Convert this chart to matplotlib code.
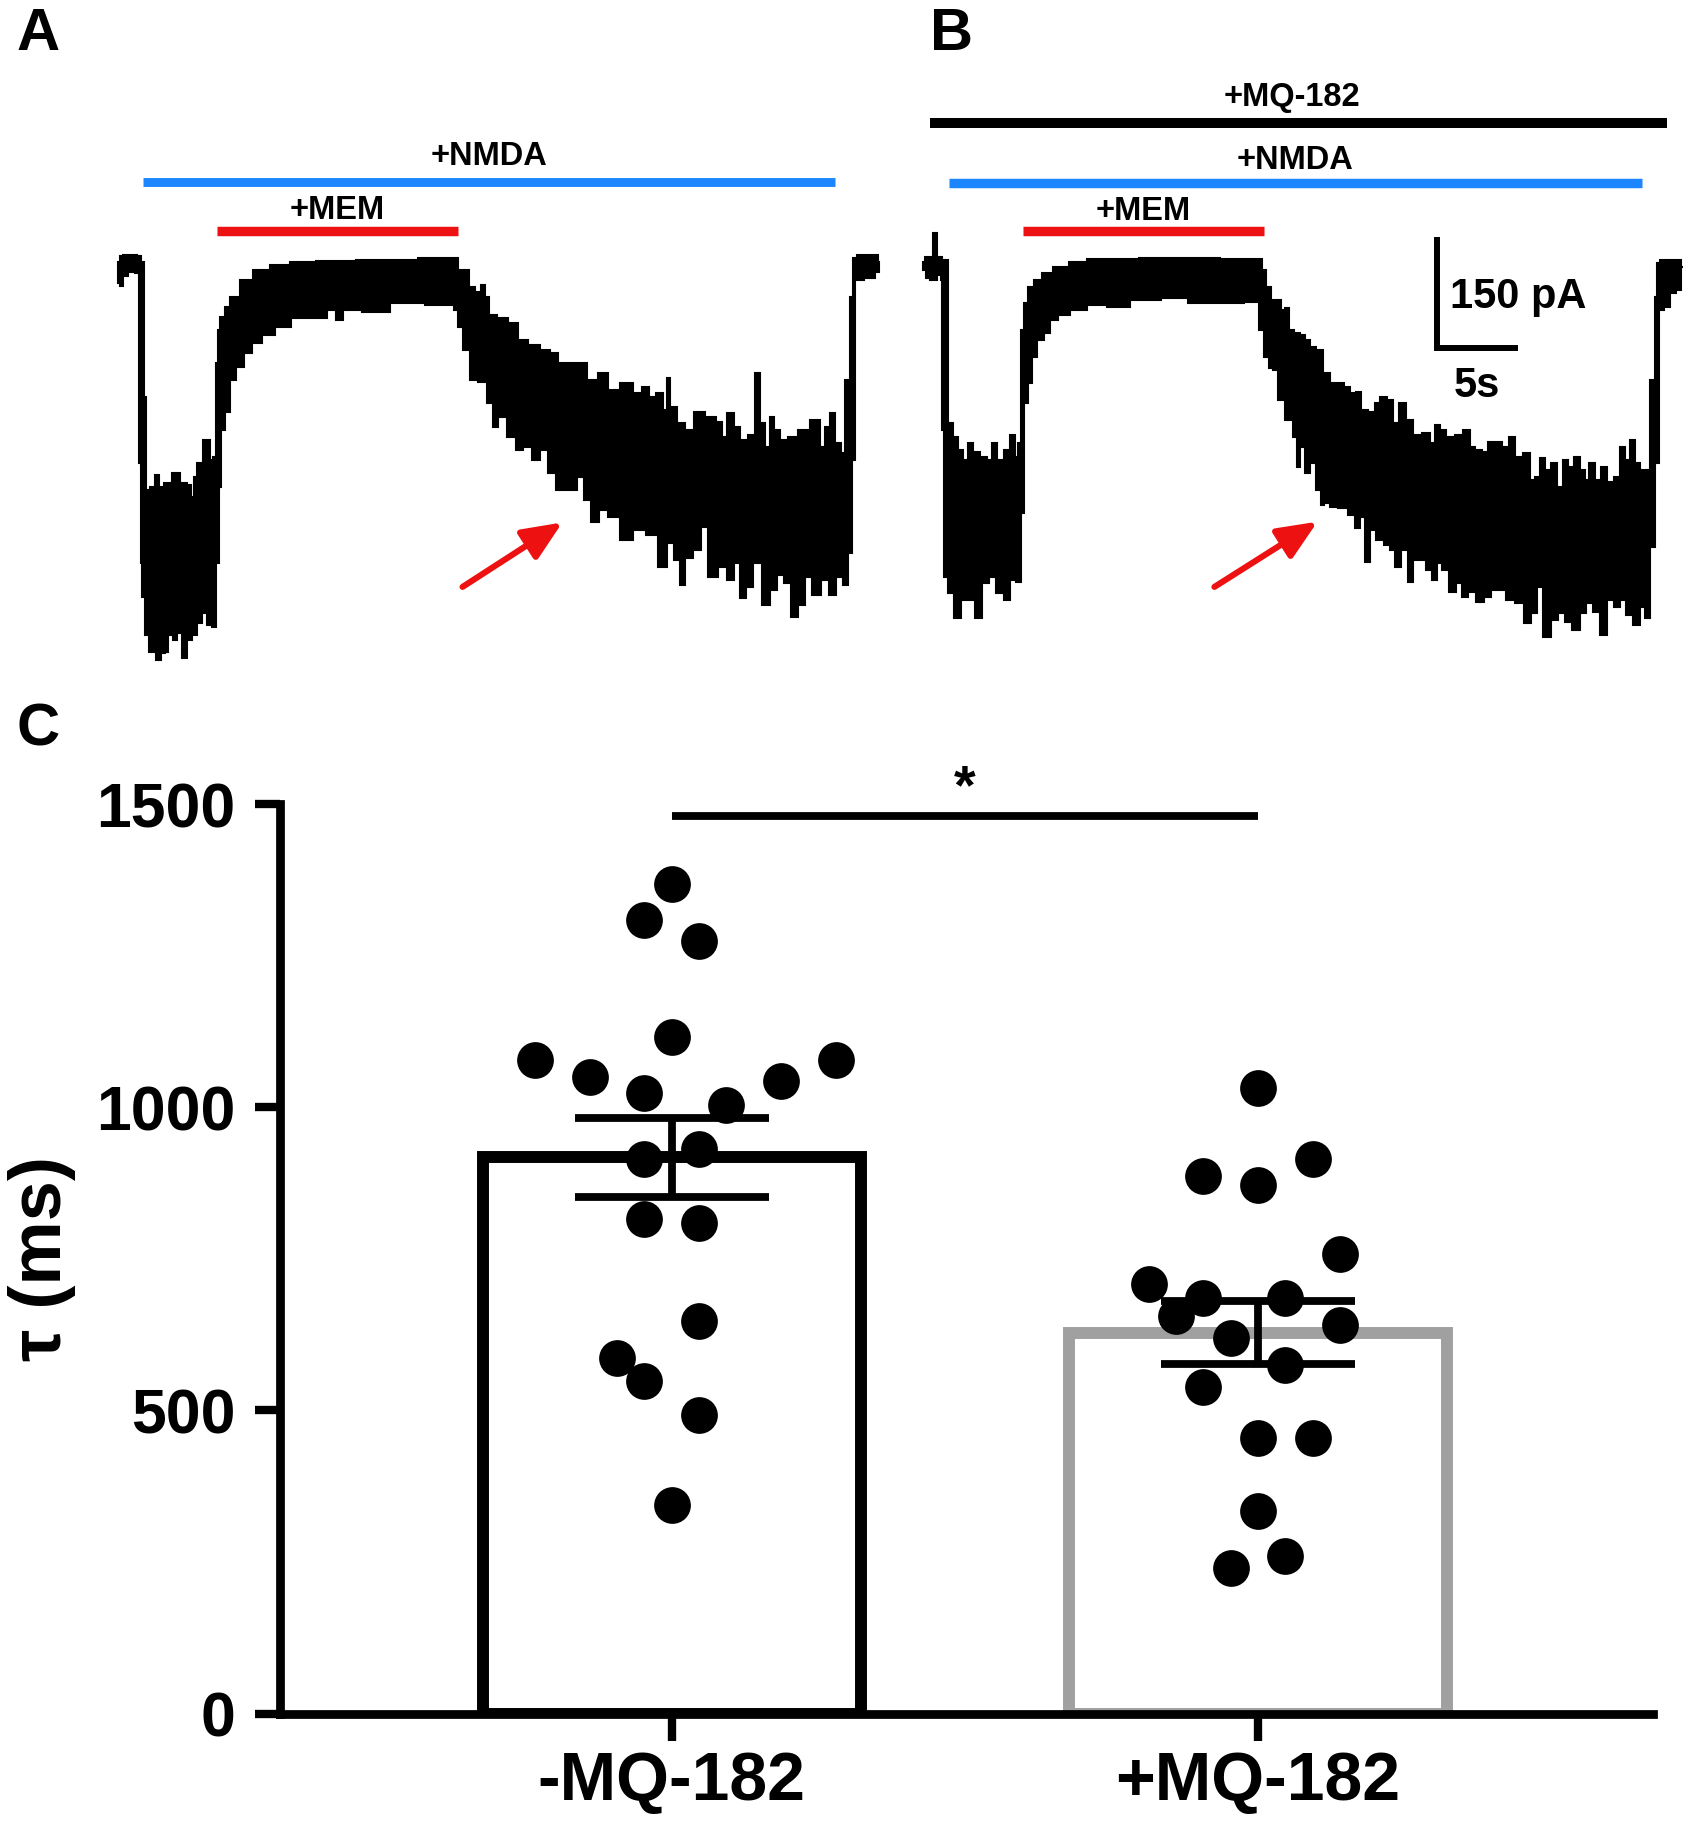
import numpy as np
import matplotlib
matplotlib.use("Agg")
import matplotlib.pyplot as plt

plt.rcParams['font.family'] = ['Liberation Sans', 'DejaVu Sans']
plt.rcParams['font.weight'] = 'bold'

W, H, DPI = 1690, 1823, 100

# ---------------- Panel A trace (time in s, current in pA), upper / lower envelope
a_up_t = [0, 0.19, 0.43, 0.93, 1.37, 1.49, 1.68, 1.86, 2.17, 2.42, 2.73, 3.04, 3.66, 4.04, 4.47,
          4.60, 4.78, 5.09, 5.53, 5.84, 6.02, 6.15, 6.21, 6.46, 6.77, 7.14, 8.01, 8.82, 10.06, 11.30,
          13.35, 16.27, 20.99, 21.24, 21.74, 21.86, 22.48, 22.61, 22.92, 23.11, 23.91, 24.53, 25.16,
          25.78, 26.65, 27.02, 27.64, 28.70, 29.50, 30.12, 30.75, 31.61, 32.42, 32.73, 33.23, 33.66,
          33.98, 34.16, 34.47, 34.91, 35.53, 36.02, 36.89, 37.39, 37.58, 38.01, 38.45, 38.82, 39.44,
          39.75, 40.00, 40.37, 40.62, 40.93, 41.30, 41.93, 42.55, 43.42, 43.73, 44.04, 44.35, 44.72,
          45.03, 45.34, 45.59, 45.71, 46.09, 47.14, 47.27]
a_up_i = [-5, 3, 4, 4, 3, -5, -188, -313, -309, -293, -309, -304, -290, -304, -306,
          -323, -296, -277, -246, -273, -269, -142, -97, -80, -66, -53, -30, -16, -9, -5,
          -4, -3, 0, -16, -16, -39, -46, -36, -53, -77, -81, -88, -111,
          -117, -124, -128, -142, -142, -165, -155, -178, -169, -182, -174, -188, -182,
          -205, -162, -201, -223, -232, -208, -215, -221, -242, -209, -228, -246, -239,
          -155, -223, -255, -215, -232, -246, -242, -232, -219, -255, -228, -209, -250,
          -263, -165, -53, 0, 4, 4, -5]
a_lo_t = [0, 0.19, 0.37, 0.93, 1.18, 1.37, 1.49, 1.55, 1.80, 2.11, 2.30, 2.48, 2.80, 3.04, 3.23,
          3.54, 3.85, 4.16, 4.47, 4.78, 5.09, 5.40, 5.71, 6.02, 6.21, 6.34, 6.46, 6.77, 7.14, 7.58,
          8.01, 8.63, 9.25, 10.25, 11.30, 12.55, 13.35, 13.79, 14.10, 16.27, 17.52, 20.62, 21.06,
          21.12, 21.68, 22.05, 22.67, 23.11, 23.42, 23.73, 24.53, 24.97, 25.40, 26.02, 26.40, 26.96,
          27.45, 28.26, 28.70, 29.13, 29.63, 30.12, 30.75, 31.61, 32.42, 33.23, 33.85, 34.29, 34.72,
          35.09, 35.40, 36.02, 36.34, 36.89, 37.58, 38.01, 38.45, 38.82, 39.25, 39.69, 40.31, 40.68,
          41.12, 41.61, 42.05, 42.48, 42.80, 43.42, 43.91, 44.41, 44.84, 45.16, 45.47, 45.65, 45.90,
          46.71, 47.27]
a_lo_i = [-34, -38, -24, -19, -20, -277, -412, -458, -509, -532, -516, -543, -533, -532, -509,
          -516, -506, -540, -516, -509, -493, -479, -495, -498, -412, -309, -232, -208, -165, -147,
          -128, -115, -104, -93, -81, -81, -70, -84, -70, -73, -61, -63, -70,
          -93, -124, -165, -167, -196, -228, -215, -242, -259, -255, -273, -259, -290,
          -313, -313, -296, -327, -356, -340, -350, -381, -367, -374, -417, -385, -408,
          -441, -405, -394, -363, -431, -417, -435, -412, -459, -444, -412, -468, -448,
          -428, -439, -485, -468, -431, -455, -435, -455, -431, -441, -398, -273, -30,
          -27, -19]

# ---------------- Panel B trace
b_up_t = [0, 0.25, 0.62, 0.68, 0.87, 0.93, 1.37, 1.68, 1.99, 2.30, 2.61, 2.92, 3.35, 3.73, 4.16,
          4.35, 4.78, 5.22, 5.53, 5.84, 6.02, 6.15, 6.34, 6.65, 7.08, 7.70, 8.51, 9.57, 10.81, 15.96,
          20.93, 21.24, 21.43, 21.74, 22.17, 22.36, 22.67, 22.80, 23.23, 23.60, 23.91, 24.16, 24.66,
          25.09, 25.47, 25.90, 26.34, 26.71, 27.02, 27.33, 27.89, 28.20, 28.57, 29.01, 29.32, 29.75,
          30.25, 30.68, 31.30, 31.68, 31.93, 32.30, 32.73, 33.35, 33.79, 34.10, 34.47, 34.91, 35.22,
          35.71, 36.27, 36.58, 36.96, 37.52, 37.83, 38.14, 38.45, 38.76, 39.25, 39.57, 39.88, 40.19,
          40.62, 40.99, 41.24, 41.55, 41.93, 42.24, 42.67, 43.11, 43.42, 43.73, 44.04, 44.41, 44.72,
          45.03, 45.34, 45.59, 45.65, 45.96, 47.02, 47.20]
b_up_i = [-5, 1, 1, 34, 34, 1, -3, -223, -242, -259, -273, -250, -262, -269, -273,
          -250, -273, -259, -239, -269, -250, -97, -61, -39, -30, -20, -12, -5, -1, 0,
          -1, -16, -39, -57, -57, -70, -68, -97, -101, -104, -111, -120, -124,
          -155, -169, -169, -174, -182, -181, -205, -208, -196, -188, -192, -223, -196,
          -219, -239, -236, -250, -225, -232, -242, -239, -232, -255, -259, -262, -248,
          -248, -255, -242, -269, -263, -300, -296, -270, -286, -277, -309, -273, -282,
          -269, -286, -300, -277, -300, -282, -302, -296, -255, -273, -246, -277, -286,
          -286, -165, -53, -7, -3, -3, -12]
b_lo_t = [0, 0.31, 0.62, 1.06, 1.18, 1.24, 1.37, 1.68, 2.17, 2.61, 3.04, 3.42, 3.85, 4.29, 4.78,
          5.22, 5.59, 6.02, 6.21, 6.34, 6.65, 6.83, 7.27, 7.70, 8.07, 8.70, 9.57, 10.81, 12.05, 13.66,
          15.96, 17.02, 19.07, 20.75, 20.93, 21.37, 21.55, 21.99, 22.17, 22.80, 23.11, 23.29, 23.60,
          23.91, 24.22, 24.66, 24.78, 25.09, 25.47, 26.09, 26.65, 26.96, 27.27, 27.58, 27.89, 28.39,
          28.82, 29.19, 29.50, 29.94, 30.25, 30.68, 30.99, 31.49, 31.80, 32.11, 32.42, 32.92, 33.35,
          33.66, 34.10, 34.60, 35.03, 35.53, 36.02, 36.46, 37.08, 37.58, 38.01, 38.32, 38.76, 39.25,
          39.69, 40.06, 40.62, 40.99, 41.43, 41.86, 42.24, 42.67, 43.11, 43.48, 43.91, 44.35, 44.66,
          45.03, 45.34, 45.59, 45.78, 46.21, 46.58, 47.02, 47.20]
b_lo_i = [-16, -27, -30, -23, -30, -232, -431, -452, -486, -462, -462, -486, -439, -431, -452,
          -462, -435, -437, -344, -196, -169, -134, -111, -101, -84, -77, -70, -63, -66, -57,
          -54, -61, -61, -59, -97, -134, -149, -151, -192, -219, -242, -282, -255,
          -290, -277, -313, -333, -331, -336, -338, -347, -365, -350, -410, -367, -381,
          -387, -394, -417, -394, -437, -408, -408, -421, -435, -412, -421, -451, -439,
          -458, -451, -464, -458, -448, -448, -462, -466, -493, -479, -444, -512, -489,
          -479, -491, -502, -479, -466, -478, -509, -462, -471, -462, -482, -495, -471,
          -486, -390, -277, -70, -66, -47, -43, -12]

# drug application intervals (s)
a_nmda = (1.58, 44.53)
a_mem = (6.15, 21.12)
b_mq = (0.43, 46.21)
b_nmda = (1.61, 44.66)
b_mem = (6.21, 21.18)
# arrows (tail t, tail I, tip t, tip I)
arrow_a = (21.4, -444, 27.6, -357)
arrow_b = (18.1, -444, 24.5, -356)
# scale bar
sb_pA = 150
sb_s = 5

# ---------------- Panel C data
groups = ['-MQ-182', '+MQ-182']
tau_minus = [1368, 1308, 1274, 1115, 1077, 1077, 1050, 1043, 1023, 1003, 931, 914, 815, 809,
             647, 586, 548, 493, 344]
col_minus = [0, -1, 1, 0, -5, 6, -3, 4, -1, 2, 1, -1, -1, 1, 1, -2, -1, 1, 0]
tau_plus = [1031, 914, 887, 871, 758, 709, 685, 685, 655, 640, 620, 575, 538, 454, 454, 334,
            260, 240]
col_plus = [0, 2, -2, 0, 3, -4, -2, 1, -3, 3, -1, 1, -2, 0, 2, 0, 1, -1]
sig_label = '*'

BLUE = '#1b86ff'
RED = '#ee1111'
GRAY = '#a0a0a0'

fig = plt.figure(figsize=(W / DPI, H / DPI), dpi=DPI)


def px_axes(x0, y0, x1, y1):
    return fig.add_axes([x0 / W, 1 - y1 / H, (x1 - x0) / W, (y1 - y0) / H])


axA = px_axes(100, 100, 900, 680)
axA.set_xlim(-1.118, 48.57)
axB = px_axes(900, 100, 1690, 680)
axB.set_xlim(-1.429, 47.64)
for ax in (axA, axB):
    ax.set_ylim(-569.7, 213.3)
    ax.axis('off')
    ax.patch.set_alpha(0)


def stairs(t, v):
    t = np.asarray(t, float)
    v = np.asarray(v, float)
    mids = (t[1:] + t[:-1]) / 2
    ts = np.r_[t[0], np.repeat(mids, 2), t[-1]]
    vs = np.repeat(v, 2)
    return ts, vs


def draw_trace(ax, ut, ui, lt, li):
    uts, uis = stairs(ut, ui)
    lts, lis = stairs(lt, li)
    ax.fill(np.r_[uts, lts[::-1]], np.r_[uis, lis[::-1]], color='black', lw=1.5,
            joinstyle='miter')


draw_trace(axA, a_up_t, a_up_i, a_lo_t, a_lo_i)
draw_trace(axB, b_up_t, b_up_i, b_lo_t, b_lo_i)


def drug_bar(ax, span, y, color, lw, label, ty, tx=None):
    ax.plot(span, [y, y], color=color, lw=lw, solid_capstyle='butt')
    if tx is None:
        tx = (span[0] + span[1]) / 2
    ax.text(tx, ty, label, ha='center', va='baseline', fontsize=23.5, fontweight='bold')


drug_bar(axA, a_nmda, 102.6, BLUE, 6.4, '+NMDA', 125.6)
drug_bar(axA, a_mem, 36.5, RED, 6.8, '+MEM', 52.7)
drug_bar(axB, b_mq, 181.6, 'black', 7.2, '+MQ-182', 205.2, tx=22.9)
drug_bar(axB, b_nmda, 101.3, BLUE, 6.8, '+NMDA', 120.8)
drug_bar(axB, b_mem, 35.8, RED, 6.8, '+MEM', 51.3)

for ax, ar in ((axA, arrow_a), (axB, arrow_b)):
    ax.annotate('', xy=(ar[2], ar[3]), xytext=(ar[0], ar[1]),
                arrowprops=dict(arrowstyle='-|>,head_length=0.6,head_width=0.26',
                                mutation_scale=40, color=RED, lw=4.4,
                                shrinkA=0, shrinkB=0))

# scale bar in panel B
sb_t0, sb_i0 = 31.93, -121.5
axB.plot([sb_t0, sb_t0, sb_t0 + sb_s], [sb_i0 + sb_pA, sb_i0, sb_i0], color='black', lw=4.3,
         solid_joinstyle='miter', solid_capstyle='butt')
axB.text(sb_t0 + 0.8, -67.5, f'{sb_pA} pA', ha='left', va='baseline', fontsize=30,
         fontweight='bold')
axB.text(sb_t0 + sb_s / 2, -187.6, f'{sb_s}s', ha='center', va='baseline', fontsize=30,
         fontweight='bold')

# ---------------- Panel C
axC = px_axes(280, 804, 1653, 1713.5)
axC.set_xlim(-0.668, 1.6736)
axC.set_ylim(0, 1500)

xs = np.arange(len(groups))
data = [np.array(tau_minus), np.array(tau_plus)]
means = [d.mean() for d in data]
sems = [d.std(ddof=1) / np.sqrt(len(d)) for d in data]

axC.bar(xs, means, width=0.645, facecolor='none', edgecolor=['black', GRAY], linewidth=8.6,
        zorder=2)
axC.errorbar(xs, means, yerr=sems, fmt='none', ecolor='black', elinewidth=5.6, capsize=70,
             capthick=5.6, zorder=3)
step = 0.0466
for i, (d, cols) in enumerate(zip(data, [col_minus, col_plus])):
    axC.scatter(xs[i] + np.array(cols) * step, d, s=700, color='black', linewidths=0, zorder=4)

sig_y = 1480
axC.plot([xs[0], xs[1]], [sig_y, sig_y], color='black', lw=5.6, solid_capstyle='butt',
         clip_on=False)
axC.annotate(sig_label, xy=(0.5, sig_y), xytext=(0, 9), textcoords='offset points',
             ha='center', va='baseline', fontsize=40, fontweight='bold', annotation_clip=False)

for s in ('top', 'right'):
    axC.spines[s].set_visible(False)
for s in ('left', 'bottom'):
    axC.spines[s].set_linewidth(6.3)
    axC.spines[s].set_capstyle('projecting')
    axC.spines[s].set_zorder(5)

axC.set_yticks([0, 500, 1000, 1500])
axC.set_xticks(xs)
axC.set_xticklabels(groups)
axC.tick_params(axis='y', length=18, width=6, labelsize=45, pad=14)
axC.tick_params(axis='x', length=19.5, width=6, labelsize=49, pad=7)
for lab in axC.get_xticklabels() + axC.get_yticklabels():
    lab.set_fontweight('bold')

axC.set_ylabel('τ (ms)', fontsize=52, fontweight='bold', va='center')
axC.yaxis.set_label_coords((42 - 280) / (1653 - 280), 0.5)

# panel letters
for letter, x, y in (('A', 17, 50), ('B', 930, 50), ('C', 17, 746)):
    fig.text(x / W, 1 - y / H, letter, ha='left', va='baseline', fontsize=43, fontweight='bold')

fig.savefig('out.png', dpi=DPI)
